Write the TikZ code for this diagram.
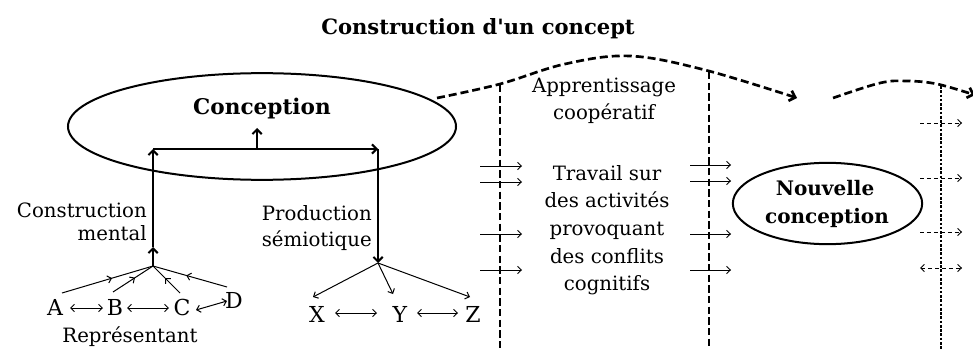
\documentclass[tikz,border=0pt]{standalone}
\usepackage{fontspec}
\setmainfont{DejaVu Serif}
\usetikzlibrary{arrows.meta,shapes.geometric,decorations.markings}
\begin{document}
\begin{tikzpicture}[x=0.75pt,y=-0.75pt,
  txt/.style={font=\fontsize{14.8}{20}\selectfont, inner sep=0pt, anchor=base},
  btxt/.style={font=\bfseries\fontsize{15}{21}\selectfont, inner sep=0pt, anchor=base},
  lettr/.style={font=\fontsize{16.5}{20}\selectfont, inner sep=0pt, anchor=base},
  thickln/.style={line width=1.5pt},
  thinln/.style={line width=0.75pt},
  bigtip/.style={-{Straight Barb[length=3.5pt,width=7pt]}},
  smalltip/.style={-{Straight Barb[length=2.8pt,width=5.5pt]}},
  dbltip/.style={{Straight Barb[length=2.8pt,width=5.5pt]}-{Straight Barb[length=2.8pt,width=5.5pt]}},
  midarrow/.style={postaction={decorate}, decoration={markings, mark=at position 0.55 with {\arrow{Straight Barb[length=2.8pt,width=5.5pt]}}}},
  curvedash/.style={line width=2pt, dash pattern=on 6pt off 3pt},
  vdash/.style={line width=1.8pt, dash pattern=on 5.5pt off 2.5pt},
  vdot/.style={line width=2pt, dash pattern=on 2pt off 1.2pt},
  thindash/.style={line width=0.7pt, dash pattern=on 3pt off 2.2pt},
  ellip/.style={ellipse, draw, line width=1.5pt, inner sep=0pt}
]
\useasboundingbox (0,0) rectangle (973,349);

% title
\node[btxt, font=\bfseries\fontsize{15.8}{20}\selectfont] (title) at (478,35) {Construction d\textquotesingle un concept};

% main ellipse
\node[ellip, minimum width=291pt, minimum height=80pt] (concep) at (262,126.5) {};
\node[btxt, font=\bfseries\fontsize{16.2}{20}\selectfont] (conceptxt) at (262,115) {Conception};

% bar and verticals
\coordinate (LT) at (153,149);
\coordinate (RT) at (378,149);
\coordinate (UPs) at (257,149);
\coordinate (UPe) at (257,128);
\coordinate (LM) at (153,247);
\coordinate (FL) at (153,266);
\coordinate (FR) at (378,263);

\draw[thickln, bigtip] (FL) -- (LM);
\draw[thickln, bigtip] (LM) -- (LT);
\draw[thickln, bigtip] (LT) -- (RT);
\draw[thickln, bigtip] (RT) -- (FR);
\draw[thickln, bigtip] (UPs) -- (UPe);

% labels of verticals
\node[txt, anchor=base east] (cm1) at (147,217) {Construction};
\node[txt, anchor=base east] (cm2) at (147,240) {mental};
\node[txt, anchor=base east] (ps1) at (372,220) {Production};
\node[txt, anchor=base east] (ps2) at (372,246) {sémiotique};

% left fan
\coordinate (fa) at (62,293);
\coordinate (fb) at (113,292);
\coordinate (fc) at (180,293);
\coordinate (fd) at (227,287);
\draw[thinln, midarrow] (fa) -- (FL);
\draw[thinln, midarrow] (fb) -- (FL);
\draw[thinln, midarrow] (fc) -- (FL);
\draw[thinln, midarrow] (fd) -- (FL);

\node[lettr] (A) at (55,315) {A};
\node[lettr] (B) at (115,315) {B};
\node[lettr] (C) at (182,315) {C};
\node[lettr] (D) at (234,308) {D};
\coordinate (ab1) at (70,308);
\coordinate (ab2) at (103,308);
\coordinate (bc1) at (127,308);
\coordinate (bc2) at (169,308);
\draw[thinln, dbltip] (ab1) -- (ab2);
\draw[thinln, dbltip] (bc1) -- (bc2);
\coordinate (cd1) at (196,310);
\coordinate (cd2) at (227,301);
\draw[thinln, dbltip] (cd1) -- (cd2);
\node[txt] (repr) at (130,342) {Représentant};

% right fan
\coordinate (gx) at (313,297);
\coordinate (gy) at (393,294);
\coordinate (gz) at (470,297);
\draw[thinln, smalltip] (FR) -- (gx);
\draw[thinln, smalltip] (FR) -- (gy);
\draw[thinln, smalltip] (FR) -- (gz);
\node[lettr] (X) at (317,322) {X};
\node[lettr] (Y) at (400,322) {Y};
\node[lettr] (Z) at (473,322) {Z};
\coordinate (xy1) at (335,313);
\coordinate (xy2) at (377,313);
\coordinate (yz1) at (417,313);
\coordinate (yz2) at (458,313);
\draw[thinln, dbltip] (xy1) -- (xy2);
\draw[thinln, dbltip] (yz1) -- (yz2);

% dashed curves
\coordinate (c1s) at (437,98);
\coordinate (c1e) at (797,98);
\draw[curvedash, -{Straight Barb[length=4pt,width=8pt]}] plot[smooth, tension=0.6] coordinates {(c1s) (500,84) (565,64) (630,56) (705,70) (c1e)};
\coordinate (c2s) at (833,98);
\coordinate (c2e) at (975,95);
\draw[curvedash, -{Straight Barb[length=4pt,width=8pt]}] plot[smooth, tension=0.6] coordinates {(c2s) (880,83) (907,81) (937,84) (c2e)};

% vertical separators
\coordinate (v1t) at (500,85);
\coordinate (v1b) at (500,349);
\coordinate (v2t) at (709,72);
\coordinate (v2b) at (709,349);
\coordinate (v3t) at (941,86);
\coordinate (v3b) at (941,349);
\draw[vdash] (v1t) -- (v1b);
\draw[vdash] (v2t) -- (v2b);
\draw[vdot] (v3t) -- (v3b);

% arrows across separators
\foreach \yy [count=\i] in {166,182,234,270} {
  \draw[thinln, smalltip] (480,\yy) coordinate (pa\i) -- (522,\yy) coordinate (pb\i);
}
\foreach \yy [count=\i] in {165,181,234,270} {
  \draw[thinln, smalltip] (690,\yy) coordinate (qa\i) -- (731,\yy) coordinate (qb\i);
}
\foreach \yy [count=\i] in {123,178,232} {
  \draw[thindash, smalltip] (920,\yy) coordinate (ra\i) -- (962,\yy) coordinate (rb\i);
}
\draw[thindash, dbltip] (920,268) coordinate (ra4) -- (962,268) coordinate (rb4);

% middle text
\node[txt] (m1) at (604,93) {Apprentissage};
\node[txt] (m2) at (604,120) {coopératif};
\node[txt] (m3) at (607,180) {Travail sur};
\node[txt] (m4) at (607,207) {des activités};
\node[txt] (m5) at (607,235) {provoquant};
\node[txt] (m6) at (607,263) {des conflits};
\node[txt] (m7) at (607,290) {cognitifs};

% nouvelle conception
\node[ellip, minimum width=142pt, minimum height=61pt] (nouv) at (827.5,203.5) {};
\node[btxt] (n1) at (825,195) {Nouvelle};
\node[btxt] (n2) at (827,223) {conception};
\end{tikzpicture}
\end{document}
